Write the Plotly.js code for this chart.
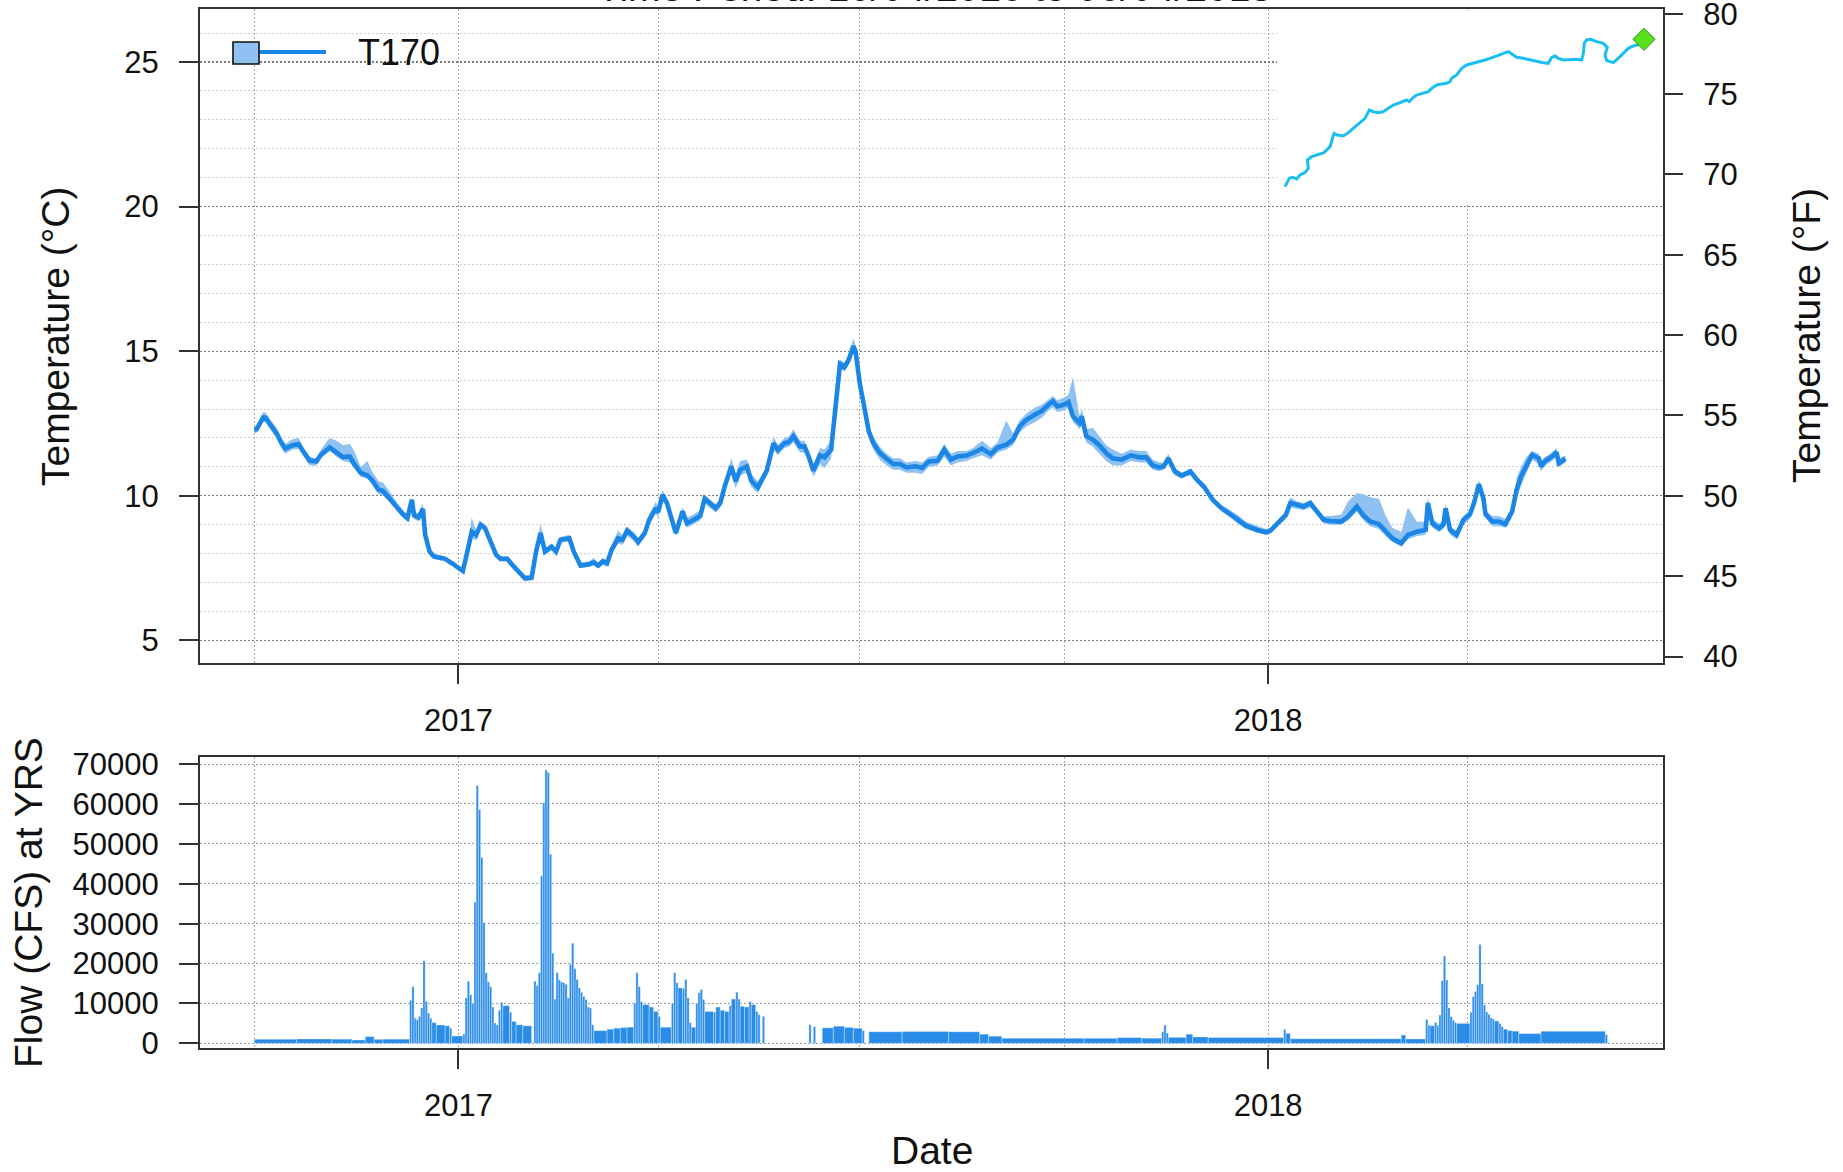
<!DOCTYPE html>
<html><head><meta charset="utf-8">
<script src="https://cdn.plot.ly/plotly-3.0.1.min.js"></script>
<style>html,body{margin:0;padding:0;background:#fff;}#chart{width:1843px;height:1172px;}</style>
</head><body><div id="chart"></div>
<script>
// ---------------- DATA ----------------
const chartTitle = 'Time Period: 10/04/2016 to 06/04/2018';
const seriesName = 'T170';
const yearTicks = ['2017-01-01', '2018-01-01'];
const yearLabels = ['2017', '2018'];

const tempDates = ['2016-10-01','2016-10-02','2016-10-05','2016-10-06','2016-10-09','2016-10-11','2016-10-13','2016-10-15','2016-10-18','2016-10-21','2016-10-23','2016-10-26','2016-10-29','2016-10-31','2016-11-04','2016-11-07','2016-11-10','2016-11-13','2016-11-15','2016-11-18','2016-11-21','2016-11-23','2016-11-26','2016-11-28','2016-12-01','2016-12-04','2016-12-07','2016-12-09','2016-12-11','2016-12-12','2016-12-14','2016-12-16','2016-12-17','2016-12-19','2016-12-21','2016-12-23','2016-12-26','2016-12-29','2017-01-01','2017-01-03','2017-01-05','2017-01-07','2017-01-09','2017-01-11','2017-01-13','2017-01-16','2017-01-18','2017-01-20','2017-01-23','2017-01-26','2017-01-29','2017-01-31','2017-02-03','2017-02-05','2017-02-07','2017-02-09','2017-02-12','2017-02-14','2017-02-16','2017-02-20','2017-02-22','2017-02-25','2017-03-01','2017-03-03','2017-03-05','2017-03-07','2017-03-09','2017-03-11','2017-03-14','2017-03-16','2017-03-18','2017-03-21','2017-03-23','2017-03-26','2017-03-28','2017-03-31','2017-04-01','2017-04-03','2017-04-05','2017-04-09','2017-04-12','2017-04-14','2017-04-17','2017-04-20','2017-04-22','2017-04-24','2017-04-27','2017-04-29','2017-05-01','2017-05-04','2017-05-06','2017-05-08','2017-05-11','2017-05-13','2017-05-16','2017-05-20','2017-05-23','2017-05-25','2017-05-28','2017-05-30','2017-06-01','2017-06-04','2017-06-06','2017-06-08','2017-06-10','2017-06-13','2017-06-15','2017-06-18','2017-06-20','2017-06-22','2017-06-24','2017-06-26','2017-06-28','2017-06-29','2017-07-01','2017-07-03','2017-07-05','2017-07-07','2017-07-10','2017-07-13','2017-07-16','2017-07-19','2017-07-22','2017-07-26','2017-07-29','2017-08-01','2017-08-05','2017-08-08','2017-08-11','2017-08-14','2017-08-18','2017-08-21','2017-08-25','2017-08-29','2017-09-01','2017-09-05','2017-09-08','2017-09-11','2017-09-14','2017-09-18','2017-09-21','2017-09-24','2017-09-26','2017-09-28','2017-10-01','2017-10-03','2017-10-05','2017-10-08','2017-10-09','2017-10-11','2017-10-14','2017-10-17','2017-10-20','2017-10-23','2017-10-27','2017-10-31','2017-11-04','2017-11-07','2017-11-10','2017-11-13','2017-11-15','2017-11-17','2017-11-20','2017-11-23','2017-11-27','2017-11-30','2017-12-03','2017-12-07','2017-12-11','2017-12-15','2017-12-19','2017-12-22','2017-12-27','2017-12-31','2018-01-02','2018-01-05','2018-01-09','2018-01-11','2018-01-14','2018-01-17','2018-01-20','2018-01-23','2018-01-26','2018-01-29','2018-02-03','2018-02-06','2018-02-10','2018-02-13','2018-02-16','2018-02-20','2018-02-23','2018-02-26','2018-03-02','2018-03-05','2018-03-09','2018-03-13','2018-03-14','2018-03-16','2018-03-19','2018-03-21','2018-03-22','2018-03-24','2018-03-27','2018-03-30','2018-04-02','2018-04-04','2018-04-06','2018-04-08','2018-04-09','2018-04-12','2018-04-15','2018-04-18','2018-04-21','2018-04-23','2018-04-25','2018-04-27','2018-04-30','2018-05-03','2018-05-04','2018-05-06','2018-05-09','2018-05-11','2018-05-12','2018-05-15'];
const tempMean = [12.29,12.30,12.71,12.70,12.37,12.17,11.86,11.63,11.74,11.79,11.54,11.21,11.19,11.42,11.67,11.50,11.34,11.36,11.10,10.79,10.70,10.55,10.21,10.17,9.92,9.63,9.36,9.23,9.86,9.32,9.25,9.55,8.65,8.07,7.90,7.86,7.82,7.67,7.52,7.40,8.07,8.76,8.65,9.00,8.88,8.36,7.96,7.82,7.82,7.55,7.29,7.15,7.17,8.07,8.71,8.07,8.24,8.07,8.48,8.53,8.07,7.59,7.63,7.70,7.59,7.73,7.67,8.13,8.53,8.48,8.79,8.59,8.40,8.71,9.17,9.57,9.43,10.03,9.75,8.71,9.46,9.05,9.17,9.30,9.90,9.75,9.57,9.75,10.32,11.02,10.50,10.90,11.02,10.52,10.29,10.87,11.82,11.59,11.82,11.86,12.06,11.71,11.71,11.33,10.87,11.40,11.33,11.59,13.15,14.56,14.45,14.71,15.17,15.00,13.85,12.92,12.23,11.82,11.48,11.28,11.10,11.10,10.98,11.02,10.96,11.19,11.21,11.59,11.25,11.36,11.39,11.48,11.63,11.44,11.67,11.77,11.94,12.40,12.63,12.81,12.94,13.15,13.27,13.09,13.15,13.24,12.75,12.52,12.75,12.06,11.94,11.74,11.48,11.30,11.25,11.40,11.33,11.33,11.05,10.98,11.02,11.30,10.84,10.70,10.84,10.55,10.32,9.86,9.57,9.36,9.13,8.97,8.82,8.74,8.79,9.05,9.34,9.75,9.69,9.63,9.75,9.46,9.17,9.13,9.11,9.28,9.63,9.32,9.11,9.02,8.76,8.53,8.36,8.65,8.76,8.82,9.75,9.05,8.88,9.00,9.57,8.82,8.65,9.17,9.36,9.80,10.40,9.92,9.36,9.11,9.11,9.02,9.46,10.21,10.67,10.96,11.42,11.30,11.02,11.21,11.36,11.51,11.13,11.28];
const tempLow = [12.15,12.18,12.55,12.55,12.20,12.00,11.65,11.45,11.60,11.62,11.38,11.05,11.05,11.30,11.55,11.35,11.20,11.15,10.95,10.65,10.60,10.40,10.05,10.00,9.80,9.50,9.25,9.10,9.70,9.20,9.12,9.40,8.55,7.97,7.82,7.78,7.75,7.60,7.45,7.32,7.90,8.55,8.45,8.90,8.78,8.25,7.88,7.75,7.75,7.48,7.20,7.05,7.08,7.95,8.55,7.95,8.12,7.97,8.38,8.42,7.97,7.50,7.55,7.60,7.50,7.62,7.55,8.00,8.35,8.30,8.62,8.45,8.25,8.58,9.00,9.40,9.25,9.85,9.60,8.60,9.30,8.90,9.02,9.15,9.75,9.60,9.42,9.60,10.15,10.75,10.25,10.70,10.80,10.30,10.10,10.70,11.60,11.40,11.65,11.70,11.85,11.50,11.50,11.15,10.65,11.10,10.95,11.30,13.00,14.40,14.30,14.55,15.00,14.85,13.70,12.75,12.05,11.60,11.25,11.05,10.90,10.90,10.80,10.80,10.75,11.00,11.05,11.35,11.05,11.15,11.20,11.30,11.40,11.25,11.50,11.60,11.75,12.20,12.40,12.55,12.70,12.95,13.05,12.90,12.95,13.05,12.55,12.30,12.50,11.85,11.70,11.45,11.20,11.05,11.05,11.20,11.15,11.15,10.90,10.85,10.90,11.15,10.70,10.60,10.72,10.45,10.22,9.76,9.47,9.25,9.00,8.85,8.72,8.65,8.70,8.95,9.20,9.60,9.55,9.50,9.60,9.35,9.05,9.00,9.00,9.15,9.45,9.15,8.95,8.85,8.60,8.40,8.25,8.50,8.60,8.65,9.60,8.90,8.75,8.85,9.40,8.65,8.50,9.00,9.20,9.65,10.25,9.80,9.25,8.95,8.95,8.90,9.30,9.90,10.35,10.70,11.25,11.10,10.85,11.05,11.20,11.35,11.00,11.15];
const tempHigh = [12.40,12.42,12.90,12.88,12.55,12.35,12.00,11.80,11.95,12.00,11.65,11.35,11.30,11.60,12.00,11.90,11.75,11.80,11.55,11.00,11.20,10.85,10.50,10.45,10.15,9.80,9.50,9.35,9.95,9.45,9.40,9.75,8.80,8.17,8.00,7.95,7.90,7.75,7.60,7.50,8.20,9.25,8.80,9.10,8.98,8.45,8.05,7.90,7.90,7.62,7.38,7.25,7.27,8.20,9.05,8.20,8.35,8.17,8.58,8.65,8.17,7.68,7.75,7.85,7.68,7.85,7.78,8.30,8.80,8.62,8.95,8.75,8.55,8.85,9.35,9.80,9.60,10.20,9.90,8.85,9.60,9.25,9.35,9.50,10.05,9.90,9.72,9.90,10.50,11.30,10.75,11.20,11.25,10.75,10.50,11.00,12.05,11.75,12.00,12.05,12.30,11.90,11.90,11.50,11.10,11.65,11.60,11.90,13.30,14.70,14.60,14.90,15.45,15.20,14.00,13.05,12.40,12.05,11.70,11.45,11.30,11.30,11.15,11.20,11.15,11.35,11.40,11.80,11.45,11.55,11.55,11.65,11.90,11.65,11.85,12.60,12.15,12.60,12.85,13.05,13.15,13.35,13.45,13.30,13.40,13.50,14.10,12.75,13.00,12.30,12.35,12.05,11.75,11.60,11.45,11.60,11.55,11.55,11.25,11.15,11.15,11.45,10.95,10.80,10.95,10.65,10.42,9.96,9.67,9.50,9.30,9.10,8.95,8.85,8.90,9.15,9.45,9.95,9.80,9.75,9.85,9.55,9.30,9.30,9.35,9.80,10.10,10.05,9.95,9.90,9.30,8.90,8.75,9.60,9.10,9.10,9.95,9.20,9.05,9.15,9.70,8.95,8.80,9.30,9.50,9.95,10.55,10.05,9.50,9.30,9.30,9.20,9.60,10.60,11.00,11.30,11.55,11.45,11.20,11.35,11.50,11.65,11.30,11.40];

// daily flow read as runs: each value holds from its start date until the next start date
const flowStart = ['2016-10-01','2016-10-20','2016-11-05','2016-11-14','2016-11-20','2016-11-24','2016-11-28','2016-12-10','2016-12-11','2016-12-12','2016-12-13','2016-12-14','2016-12-15','2016-12-16','2016-12-17','2016-12-18','2016-12-19','2016-12-20','2016-12-22','2016-12-26','2016-12-28','2016-12-29','2017-01-03','2017-01-04','2017-01-05','2017-01-06','2017-01-07','2017-01-08','2017-01-09','2017-01-10','2017-01-11','2017-01-12','2017-01-13','2017-01-14','2017-01-15','2017-01-16','2017-01-17','2017-01-18','2017-01-19','2017-01-20','2017-01-21','2017-01-24','2017-01-25','2017-01-27','2017-01-30','2017-02-03','2017-02-04','2017-02-05','2017-02-06','2017-02-07','2017-02-08','2017-02-09','2017-02-10','2017-02-11','2017-02-12','2017-02-13','2017-02-14','2017-02-15','2017-02-16','2017-02-17','2017-02-18','2017-02-19','2017-02-20','2017-02-21','2017-02-22','2017-02-23','2017-02-24','2017-02-25','2017-02-26','2017-02-27','2017-02-28','2017-03-01','2017-03-02','2017-03-03','2017-03-09','2017-03-12','2017-03-15','2017-03-18','2017-03-21','2017-03-22','2017-03-23','2017-03-24','2017-03-25','2017-03-28','2017-03-30','2017-04-01','2017-04-02','2017-04-07','2017-04-08','2017-04-09','2017-04-10','2017-04-12','2017-04-13','2017-04-14','2017-04-15','2017-04-16','2017-04-18','2017-04-19','2017-04-20','2017-04-21','2017-04-22','2017-04-26','2017-04-27','2017-04-29','2017-05-01','2017-05-03','2017-05-04','2017-05-06','2017-05-07','2017-05-08','2017-05-10','2017-05-12','2017-05-13','2017-05-15','2017-05-16','2017-05-17','2017-05-18','2017-05-19','2017-06-08','2017-06-09','2017-06-10','2017-06-11','2017-06-14','2017-06-19','2017-06-24','2017-06-28','2017-07-02','2017-07-03','2017-07-05','2017-07-20','2017-08-10','2017-08-24','2017-08-28','2017-09-03','2017-10-10','2017-10-25','2017-11-05','2017-11-14','2017-11-15','2017-11-16','2017-11-17','2017-11-25','2017-11-28','2017-12-05','2018-01-08','2018-01-09','2018-01-11','2018-03-02','2018-03-04','2018-03-13','2018-03-14','2018-03-15','2018-03-17','2018-03-18','2018-03-19','2018-03-20','2018-03-21','2018-03-22','2018-03-23','2018-03-24','2018-03-25','2018-03-26','2018-03-27','2018-04-02','2018-04-03','2018-04-04','2018-04-05','2018-04-06','2018-04-07','2018-04-08','2018-04-09','2018-04-10','2018-04-11','2018-04-12','2018-04-13','2018-04-15','2018-04-16','2018-04-17','2018-04-19','2018-04-21','2018-04-24','2018-05-04','2018-06-02'];
const flowCfs = [1050,1100,1050,850,1700,1000,1050,10800,14200,6300,5900,6750,8850,20700,10500,7600,6300,5200,4600,4400,3800,1850,2350,11400,15600,12200,10000,35400,64600,58600,46600,30200,17700,15400,14200,9100,5100,4600,8300,10300,9450,7800,5500,4650,4400,null,15600,14500,17700,42000,60300,68500,67900,47400,22600,11100,17700,15900,15400,15200,14800,11400,19800,25100,18700,16000,13900,12800,11800,11000,9100,8850,4650,3200,3550,3800,3950,4050,10100,17700,14200,10500,9700,9100,8000,6750,4050,10000,17700,15200,13900,13700,16000,11400,5200,4050,10000,12700,13500,11000,8000,7800,9100,8300,8000,9450,11100,12800,11100,9300,9100,10500,9700,8000,7200,null,6750,null,4700,null,4200,null,3900,4300,4000,3800,3200,null,2900,3000,2900,2300,1800,1300,1250,1450,1300,2900,4600,2600,1500,2300,1600,1450,3500,2500,1150,2100,1100,6000,4550,4400,5200,4550,7100,15700,21900,15900,8900,6700,5800,5200,5000,7800,11700,13000,14700,24800,14900,9600,7900,7300,6400,6100,5600,5000,4200,3550,3200,3050,2450,3050,2200];
const flowEnd = '2018-06-03';

// river path inset (site map), in picture units, with the site marker
const mapX = [105,118,128,140,150,165,175,172,185,200,210,222,240,252,262,280,295,310,330,345,358,368,385,400,415,430,450,470,478,490,500,520,535,545,560,575,590,600,605,620,635,650,670,690,705,720,740,760,775,790,800,820,840,860,880,895,905,915,925,940,960,980,995,1000,1003,1010,1022,1040,1060,1072,1065,1070,1090,1100,1110,1125,1135,1150,1165,1178];
const mapY = [560,535,532,537,525,518,505,480,470,465,460,458,440,400,405,408,398,385,370,355,330,335,338,335,325,315,308,300,305,292,285,280,275,265,255,252,250,245,235,225,205,195,190,183,180,175,168,160,155,165,172,175,180,185,188,190,172,168,175,180,178,178,180,160,130,120,118,125,130,142,165,182,188,180,170,155,145,138,133,130];
const siteX = [1182];
const siteY = [118];

// ---------------- LAYOUT HELPERS ----------------
const W = 1843, H = 1172;
const L = 200, R = 1663, T = 9, B = 1048;
const px = x => (x - L) / (R - L);
const py = y => (B - y) / (B - T);
const topPanel = [py(663), 1];
const botPanel = [0, py(757)];
const xRange = ['2016-09-06 12:00', '2018-06-28'];
const cRange = [4.22, 26.83];
const fRange = cRange.map(c => c * 9 / 5 + 32);
const flowRange = [-1165, 71773];
const mapBox = {x0: 1277, x1: 1661.8, y0: 10.2, y1: 203};
const mapXRange = [(mapBox.x0 - 1250) * 3, (mapBox.x1 - 1250) * 3];
const mapYRange = [mapBox.y1 * 3, mapBox.y0 * 3];

const FONT = 'Liberation Sans, Arial, Helvetica, sans-serif';
const lineBlue = '#1b86e6';
const bandBlue = '#8fc1f3';
const barBlue = '#2a8ce9';
const frameCol = '#333333';
const dots = '1.5px,2.5px';

// bars: width of each run from its start to the next start
const barX = [], barW = [], barY = [];
for (let i = 0; i < flowStart.length; i++) {
  const next = i + 1 < flowStart.length ? flowStart[i + 1] : flowEnd;
  if (flowCfs[i] === null) continue;
  barX.push(flowStart[i]);
  barW.push(new Date(next) - new Date(flowStart[i]));
  barY.push(flowCfs[i]);
}

const traces = [
  {x: tempDates, y: tempHigh, xaxis: 'x', yaxis: 'y', mode: 'lines', line: {width: 0, color: bandBlue}, hoverinfo: 'skip'},
  {x: tempDates, y: tempLow, xaxis: 'x', yaxis: 'y', mode: 'lines', line: {width: 0, color: bandBlue}, fill: 'tonexty', fillcolor: bandBlue, hoverinfo: 'skip'},
  {x: tempDates, y: tempMean, xaxis: 'x', yaxis: 'y', mode: 'lines', name: seriesName, line: {width: 4.6, color: lineBlue}},
  {x: tempDates, y: tempMean.map(c => c * 9 / 5 + 32), xaxis: 'x', yaxis: 'y2', mode: 'lines', line: {width: 0}, opacity: 0, hoverinfo: 'skip'},
  {type: 'bar', x: barX, y: barY, width: barW, offset: 0, xaxis: 'x2', yaxis: 'y3', marker: {color: barBlue, line: {color: 'rgba(255,255,255,0.55)', width: 0.6}}},
  {x: mapX, y: mapY, xaxis: 'x3', yaxis: 'y4', mode: 'lines', line: {width: 3, color: '#19bff0'}, hoverinfo: 'skip'},
  {x: siteX, y: siteY, xaxis: 'x3', yaxis: 'y4', mode: 'markers', marker: {symbol: 'diamond', size: 17, color: '#55e11c', line: {color: '#2f8f10', width: 1}}, hoverinfo: 'skip'}
];

const tickFont = {family: FONT, size: 31, color: '#111'};
const dateAxis = (anchor) => ({
  anchor: anchor, domain: [0, 1], type: 'date', range: xRange,
  tickmode: 'array', tickvals: yearTicks, ticktext: yearLabels,
  ticks: 'outside', ticklen: 19, tickwidth: 2, tickcolor: frameCol, tickfont: tickFont, ticklabelstandoff: 10,
  showline: true, mirror: true, linecolor: frameCol, linewidth: 2, zeroline: false,
  showgrid: true, gridcolor: '#a8a8a8', gridwidth: 1, griddash: dots,
  minor: {tick0: '2016-10-01', dtick: 'M3', showgrid: true, gridcolor: '#a8a8a8', gridwidth: 1, griddash: dots, ticks: ''}
});

const layout = {
  width: W, height: H,
  margin: {l: L, r: W - R, t: T, b: H - B, pad: 0},
  paper_bgcolor: '#fff', plot_bgcolor: '#fff',
  font: {family: FONT, color: '#111'},
  showlegend: false,
  xaxis: dateAxis('y'),
  yaxis: {
    domain: topPanel, anchor: 'x', range: cRange, tick0: 0, dtick: 5,
    ticks: 'outside', ticklen: 19, tickwidth: 2, tickcolor: frameCol, tickfont: tickFont, ticklabelstandoff: 14,
    showline: true, mirror: true, linecolor: frameCol, linewidth: 2, zeroline: false,
    showgrid: true, gridcolor: '#7a7a7a', gridwidth: 1.3, griddash: dots,
    minor: {dtick: 1, showgrid: true, gridcolor: '#cdcdcd', gridwidth: 1, griddash: dots, ticks: ''}
  },
  yaxis2: {
    overlaying: 'y', side: 'right', anchor: 'x', range: fRange, tick0: 0, dtick: 5,
    ticks: 'outside', ticklen: 19, tickwidth: 2, tickcolor: frameCol, tickfont: tickFont, ticklabelstandoff: 14,
    ticklabeloverflow: 'allow',
    showline: false, showgrid: false, zeroline: false
  },
  xaxis2: dateAxis('y3'),
  yaxis3: {
    domain: botPanel, anchor: 'x2', range: flowRange, tick0: 0, dtick: 10000, tickformat: 'd',
    ticks: 'outside', ticklen: 19, tickwidth: 2, tickcolor: frameCol, tickfont: tickFont, ticklabelstandoff: 14,
    showline: true, mirror: true, linecolor: frameCol, linewidth: 2, zeroline: false,
    showgrid: true, gridcolor: '#9a9a9a', gridwidth: 1, griddash: dots
  },
  xaxis3: {domain: [px(mapBox.x0), px(mapBox.x1)], anchor: 'y4', range: mapXRange, visible: false, fixedrange: true},
  yaxis4: {domain: [py(mapBox.y1), py(mapBox.y0)], anchor: 'x3', range: mapYRange, visible: false, fixedrange: true},
  bargap: 0,
  shapes: [
    {type: 'rect', xref: 'x3', yref: 'y4', layer: 'below', x0: mapXRange[0], x1: mapXRange[1], y0: mapYRange[0], y1: mapYRange[1], fillcolor: '#fff', line: {width: 0}},
    {type: 'line', xref: 'paper', yref: 'paper', x0: px(259), x1: px(326), y0: py(52), y1: py(52), line: {color: lineBlue, width: 4}},
    {type: 'rect', xref: 'paper', yref: 'paper', x0: px(233), x1: px(259), y0: py(64), y1: py(42), fillcolor: bandBlue, line: {color: '#111', width: 1.6}}
  ],
  annotations: [
    {text: chartTitle, xref: 'paper', yref: 'paper', x: px(934), y: py(11), xanchor: 'center', yanchor: 'bottom', showarrow: false, font: {family: FONT, size: 39, color: '#111'}},
    {text: seriesName, xref: 'paper', yref: 'paper', x: px(356), y: py(53), xanchor: 'left', yanchor: 'middle', showarrow: false, font: {family: FONT, size: 36, color: '#111'}},
    {text: 'Temperature (°C)', xref: 'paper', yref: 'paper', x: px(56), y: py(336), xanchor: 'center', yanchor: 'middle', textangle: -90, showarrow: false, font: {family: FONT, size: 39, color: '#111'}},
    {text: 'Temperature (°F)', xref: 'paper', yref: 'paper', x: px(1807), y: py(336), xanchor: 'center', yanchor: 'middle', textangle: -90, showarrow: false, font: {family: FONT, size: 39, color: '#111'}},
    {text: 'Flow (CFS) at YRS', xref: 'paper', yref: 'paper', x: px(28), y: py(903), xanchor: 'center', yanchor: 'middle', textangle: -90, showarrow: false, font: {family: FONT, size: 39, color: '#111'}},
    {text: 'Date', xref: 'paper', yref: 'paper', x: px(932), y: py(1150), xanchor: 'center', yanchor: 'middle', showarrow: false, font: {family: FONT, size: 39, color: '#111'}}
  ]
};

Plotly.newPlot('chart', traces, layout, {displayModeBar: false, staticPlot: true});
</script>
</body></html>
